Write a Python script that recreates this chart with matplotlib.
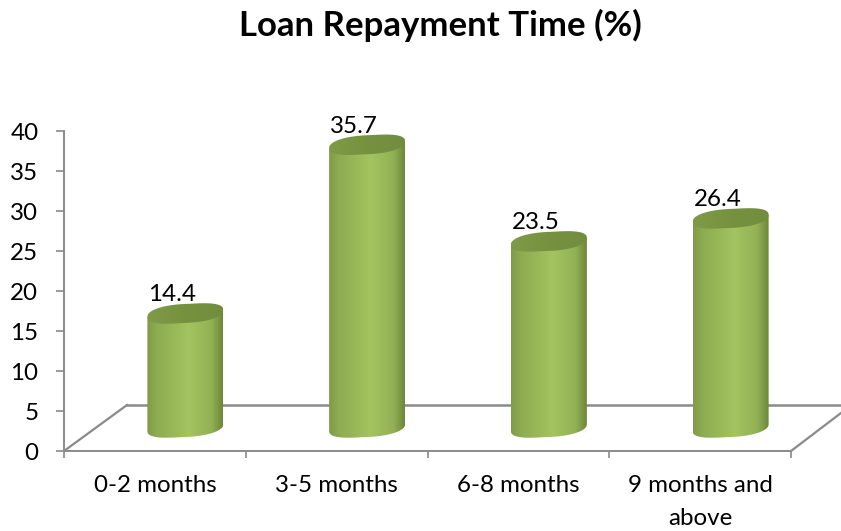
import numpy as np
import matplotlib
matplotlib.use("Agg")
import matplotlib.pyplot as plt
from matplotlib.colors import LinearSegmentedColormap
from matplotlib.patches import Polygon

categories = ["0-2 months", "3-5 months", "6-8 months", "9 months and\nabove"]
values = [14.4, 35.7, 23.5, 26.4]
yticks = [0, 5, 10, 15, 20, 25, 30, 35, 40]

W, H = 841, 531
plt.rcParams["font.family"] = ["Lato", "DejaVu Sans"]
fig = plt.figure(figsize=(W / 100, H / 100), dpi=100, facecolor="white")
L, R, T, B = 64, 791, 131, 451
ax = fig.add_axes([L / W, 1 - B / H, (R - L) / W, (B - T) / H])
ax.set_xlim(0, 4)
ax.set_ylim(0, 40)
ax.patch.set_alpha(0)

ux = 4 / (R - L)   # axis units per pixel
uy = 40 / (B - T)
GRAY = "#8a8a8a"
FS = 17.4

for s in ("top", "right"):
    ax.spines[s].set_visible(False)
for s in ("left", "bottom"):
    ax.spines[s].set_color(GRAY)
    ax.spines[s].set_linewidth(1.4)
ax.set_yticks(yticks)
ax.set_xticks(range(5))
ax.set_xticklabels([])
ax.tick_params(axis="both", which="major", color=GRAY, width=1.2, length=5,
               labelsize=FS, labelcolor="black")
ax.tick_params(axis="y", length=6, pad=12.5)
ax.set_xticks(np.arange(4) + 0.5, minor=True)
ax.set_xticklabels(categories, minor=True, fontsize=FS, linespacing=1.7, va="top")
ax.tick_params(axis="x", which="minor", length=0, pad=17)

# floor of the 3-D plot
floor_x = np.array([0, 63 * ux, 778 * ux, 4 + 50 * ux, 4, 0])
floor_y = np.array([0, 46 * uy, 46 * uy, 38 * uy, 0, 0])
ax.plot(floor_x[:2], floor_y[:2], color=GRAY, lw=1.6, clip_on=False, zorder=1)
ax.plot(floor_x[1:3], floor_y[1:3], color=GRAY, lw=1.8, clip_on=False, zorder=1)
ax.plot(floor_x[3:5], floor_y[3:5], color=GRAY, lw=1.6, clip_on=False, zorder=1)

body_cmap = LinearSegmentedColormap.from_list(
    "body", [(0, "#7f9b48"), (0.12, "#8dab50"), (0.55, "#a3c460"), (0.85, "#92b155"), (1, "#6c8739")])
top_cmap = LinearSegmentedColormap.from_list("top", ["#7f9b47", "#76923f", "#728d3f"])
grad = np.linspace(0, 1, 256)[None, :]

a, b, k = 38 * ux, 9.5 * uy, 3.5 * uy
dx, dy = 30.5 * ux, 23.5 * uy
th = 0.99
t_low = np.linspace(np.pi, 2 * np.pi, 80)
t_all = np.linspace(0, 2 * np.pi, 160)


def ring(t):
    """Slightly squared ellipse: the 3-D cylinder caps have blunt ends."""
    c, s = np.cos(t), np.sin(t)
    return np.sign(c) * np.abs(c) ** 0.75, np.sign(s) * np.abs(s) ** 0.85, c


for i, v in enumerate(values):
    cx = i + 0.5 + dx
    y0 = dy
    y1 = dy + v * th
    cl, sl, c0 = ring(t_low)
    low_x = cx + a * cl
    low_y = y0 + b * sl + k * c0
    xs = np.r_[cx - a, low_x, cx + a]
    ys = np.r_[y1 + -k, low_y, y1 + k]
    side = Polygon(np.c_[xs, ys], closed=True, transform=ax.transData, fc="none", ec="none")
    ax.add_patch(side)
    im = ax.imshow(grad, cmap=body_cmap, extent=[cx - a, cx + a, y0 - 3 * b, y1 + 3 * b],
                   aspect="auto", zorder=2)
    im.set_clip_path(side)
    ca, sa, c1 = ring(t_all)
    top = Polygon(np.c_[cx + a * ca, y1 + b * sa + k * c1],
                  closed=True, transform=ax.transData, fc="none", ec="none")
    ax.add_patch(top)
    im2 = ax.imshow(grad, cmap=top_cmap, extent=[cx - a, cx + a, y1 - 2 * b, y1 + 2 * b],
                    aspect="auto", zorder=3)
    im2.set_clip_path(top)
    ax.text(cx - 13 * ux, y1 + 18.5 * uy, f"{v:.1f}", ha="center", va="center",
            fontsize=FS, color="black", zorder=4, clip_on=False)

ax.set_xlim(0, 4)
ax.set_ylim(0, 40)
fig.text(440.5 / W, 1 - 25 / H, "Loan Repayment Time (%)", ha="center", va="center",
         fontsize=25, fontweight="bold", color="black")
fig.savefig("out.png", dpi=100)
